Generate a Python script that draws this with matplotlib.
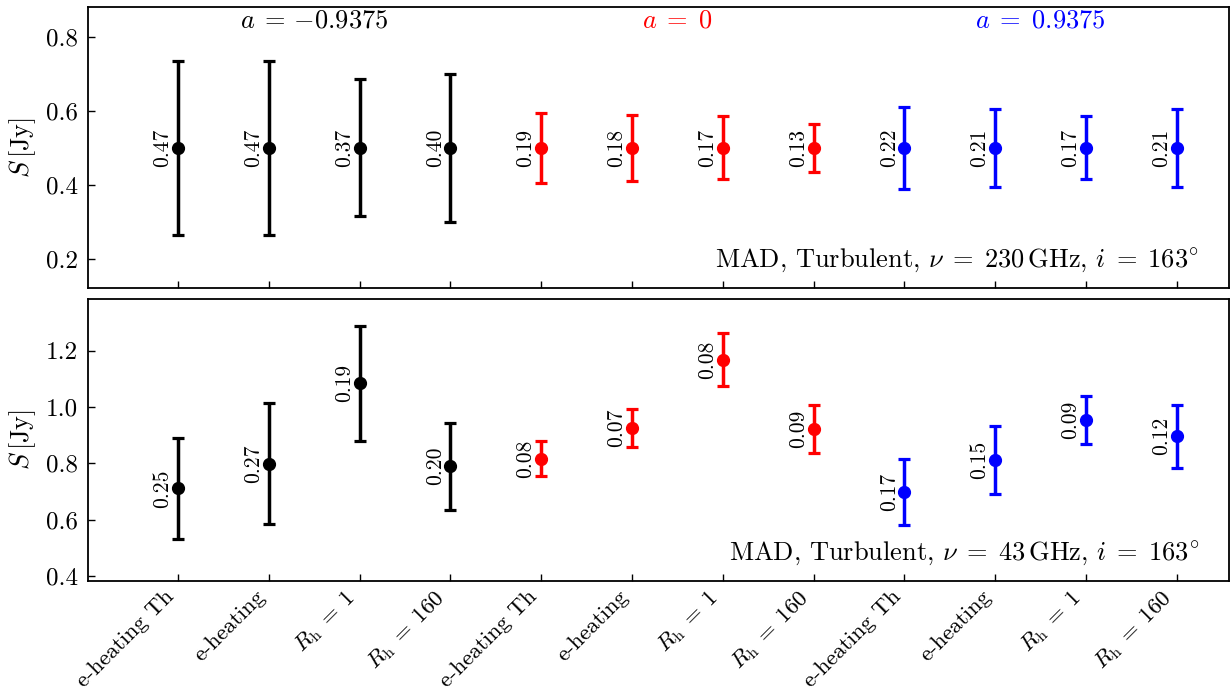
import matplotlib
matplotlib.use("Agg")
import matplotlib.pyplot as plt
import numpy as np

plt.rcParams['font.family'] = 'serif'
plt.rcParams['font.serif'] = ['cmr10', 'DejaVu Serif']
plt.rcParams['mathtext.fontset'] = 'cm'
plt.rcParams['axes.formatter.use_mathtext'] = True
plt.rcParams['axes.unicode_minus'] = True

categories = ['e-heating Th', 'e-heating', r'$R_{\rm h}\;=\;1$', r'$R_{\rm h}\;=\;160$'] * 3
colors = ['black'] * 4 + ['red'] * 4 + ['blue'] * 4
spin_labels = [r'$a\;=\,{-0.9375}$', r'$a\;=\;0$', r'$a\;=\;0.9375$']
spin_colors = ['black', 'red', 'blue']

# 230 GHz panel
flux_230 = [0.5] * 12
err_230 = [0.235, 0.235, 0.185, 0.20, 0.095, 0.09, 0.085, 0.065, 0.11, 0.105, 0.085, 0.105]
rel_230 = ['0.47', '0.47', '0.37', '0.40', '0.19', '0.18', '0.17', '0.13', '0.22', '0.21', '0.17', '0.21']

# 43 GHz panel
flux_43 = [0.711, 0.799, 1.084, 0.790, 0.817, 0.925, 1.169, 0.921, 0.698, 0.812, 0.954, 0.896]
err_43 = [0.180, 0.215, 0.205, 0.155, 0.063, 0.068, 0.095, 0.085, 0.118, 0.122, 0.084, 0.111]
rel_43 = ['0.25', '0.27', '0.19', '0.20', '0.08', '0.07', '0.08', '0.09', '0.17', '0.15', '0.09', '0.12']

fig = plt.figure(figsize=(12.31, 6.93), dpi=100)
ax1 = fig.add_axes([0.0715, 0.5844, 0.9265, 0.4056])
ax2 = fig.add_axes([0.0715, 0.1616, 0.9265, 0.4069], sharex=ax1)

x = np.arange(len(categories))

def draw(ax, flux, err, rel, note):
    for xi, f, e, r, c in zip(x, flux, err, rel, colors):
        ax.errorbar(xi, f, yerr=e, fmt='o', color=c, ms=8.5, elinewidth=2.5,
                    capsize=4.5, capthick=2.3)
        ax.annotate(r, (xi, f), xytext=(-4, 0), textcoords='offset points',
                    rotation=90, ha='right', va='center', fontsize=15.5)
    ax.text(0.974, 0.05, note, transform=ax.transAxes, ha='right', va='bottom', fontsize=19)
    ax.set_ylabel(r'$S\,[\mathrm{Jy}]$', fontsize=19, labelpad=6)
    ax.tick_params(direction='in', length=5, width=1, labelsize=18, pad=7)
    for s in ax.spines.values():
        s.set_linewidth(1.3)

draw(ax1, flux_230, err_230, rel_230,
     r'MAD, Turbulent, $\nu\;=\;230\,\mathrm{GHz}$, $i\;=\;163^{\circ}$')
draw(ax2, flux_43, err_43, rel_43,
     r'MAD, Turbulent, $\nu\;=\;43\,\mathrm{GHz}$, $i\;=\;163^{\circ}$')

for k, (lab, c) in enumerate(zip(spin_labels, spin_colors)):
    ax1.text(x[4 * k:4 * k + 4].mean(), 0.845, lab, color=c, ha='center', va='center', fontsize=19)

ax1.set_ylim(0.121, 0.881)
ax1.set_yticks([0.2, 0.4, 0.6, 0.8])
ax2.set_ylim(0.382, 1.384)
ax2.set_yticks([0.4, 0.6, 0.8, 1.0, 1.2])
ax1.set_xlim(-0.99, 11.57)
ax2.set_xticks(x)
ax2.set_xticklabels(categories, rotation=45, ha='right', fontsize=16.5)
ax2.tick_params(axis='x', pad=4)
plt.setp(ax1.get_xticklabels(), visible=False)
ax1.yaxis.set_major_formatter(matplotlib.ticker.FormatStrFormatter('%.1f'))
ax2.yaxis.set_major_formatter(matplotlib.ticker.FormatStrFormatter('%.1f'))

fig.savefig('out.png', dpi=100)
